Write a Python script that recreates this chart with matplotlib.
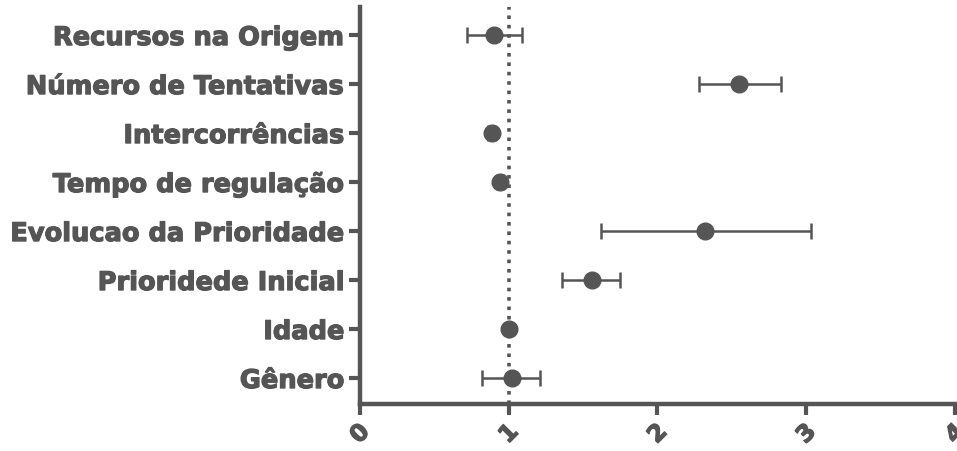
import numpy as np
import matplotlib.pyplot as plt
import matplotlib.patheffects as pe

# odds ratios with 95% confidence limits, top row first
labels = ['Recursos na Origem', 'Número de Tentativas', 'Intercorrências',
          'Tempo de regulação', 'Evolucao da Prioridade', 'Prioridede Inicial',
          'Idade', 'Gênero']
odds = [0.90, 2.55, 0.885, 0.94, 2.32, 1.56, 1.00, 1.02]
lower = [0.72, 2.28, 0.86, 0.92, 1.62, 1.36, 0.99, 0.82]
upper = [1.09, 2.83, 0.91, 0.96, 3.03, 1.75, 1.01, 1.21]
x_ticks = [0, 1, 2, 3, 4]

grey = '#555555'
plt.rcParams['font.family'] = ['DejaVu Sans']
heavy = [pe.withStroke(linewidth=0.9, foreground=grey)]

fig = plt.figure(figsize=(9.57, 4.52), dpi=100)
ax = fig.add_axes([0.376, 0.104, 0.622, 0.878])

y = np.arange(len(labels))[::-1]
odds = np.array(odds)
err = np.vstack([odds - np.array(lower), np.array(upper) - odds])

ax.axvline(1, color=grey, linestyle=(0, (1, 1.6)), linewidth=2.6, zorder=1)
ax.errorbar(odds, y, xerr=err, fmt='o', color=grey, ecolor=grey,
            markersize=12, elinewidth=1.8, capsize=6, capthick=1.8, zorder=3)

ax.set_xlim(0, 4)
ax.set_ylim(-0.53, 7.57)
ax.set_yticks(y)
ax.set_yticklabels(labels, fontsize=18.5, fontweight='bold', color=grey)
ax.set_xticks(x_ticks)
ax.set_xticklabels([str(t) for t in x_ticks], fontsize=17, fontweight='bold',
                   color=grey, rotation=45, ha='center', va='top')
for t in ax.get_yticklabels() + ax.get_xticklabels():
    t.set_path_effects(heavy)

for side in ['top', 'right']:
    ax.spines[side].set_visible(False)
for side in ['left', 'bottom']:
    ax.spines[side].set_linewidth(3.2)
    ax.spines[side].set_color(grey)
ax.tick_params(axis='both', width=3, length=8, color=grey, pad=3)

fig.savefig('out.png', dpi=100)
